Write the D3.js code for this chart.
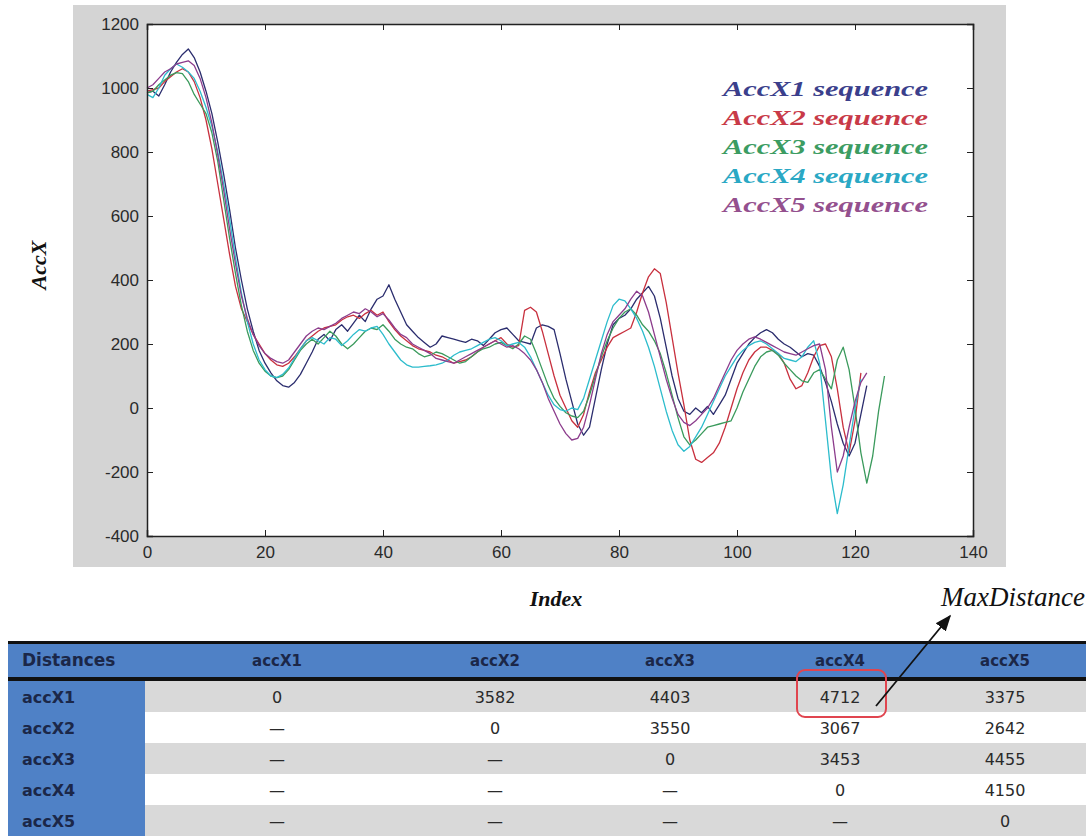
<!DOCTYPE html>
<html>
<head>
<meta charset="utf-8">
<script src="https://cdn.jsdelivr.net/npm/d3@7/dist/d3.min.js"></script>
<style>
  body { margin: 0; background: #fff; }
  svg { display: block; }
</style>
</head>
<body>
<svg id="chart" width="1091" height="837"></svg>
<script>
// 五条序列（按索引 0,1,2,... 读取）
const accX1 = [985,990,975,1010,1050,1080,1105,1122,1095,1050,990,920,830,730,620,500,400,310,240,180,
  140,110,85,70,65,80,105,140,175,215,230,210,245,260,240,265,290,270,310,340,
  350,385,340,300,260,240,220,205,190,200,225,220,215,210,205,215,210,195,215,235,
  245,250,230,210,205,200,250,260,255,245,170,90,20,-50,-85,-60,30,120,200,260,
  280,290,310,340,360,380,350,280,190,100,30,-10,-20,0,-15,5,-20,10,40,90,
  140,170,200,220,235,245,235,215,200,190,175,160,170,165,130,80,20,-50,-110,-150,
  -110,-20,70];
const accX2 = [990,995,1000,1020,1035,1050,1060,1050,1020,970,900,810,700,590,480,380,310,270,230,200,
  170,150,135,130,140,160,185,210,225,240,250,255,260,275,285,290,280,295,305,290,
  300,270,245,225,210,195,185,180,175,165,160,150,140,145,150,160,175,190,200,210,
  220,200,190,195,305,315,300,240,170,100,40,0,-40,-60,-20,50,110,150,190,220,
  230,240,250,300,360,410,435,420,330,220,110,10,-100,-160,-170,-155,-140,-110,-60,0,
  60,110,150,175,190,190,180,170,140,90,60,70,110,160,195,200,160,60,-60,-140,
  -40,110];
const accX3 = [985,990,1010,1025,1040,1048,1045,1020,980,950,920,860,770,650,530,420,320,240,180,140,
  115,100,95,100,120,150,180,200,215,200,220,240,225,200,185,200,220,240,250,245,
  260,240,215,200,190,185,170,160,165,175,170,160,150,140,145,160,175,185,190,200,
  205,195,185,200,225,215,170,120,70,30,5,-15,-25,-30,-10,40,100,160,210,250,
  280,300,310,290,260,240,210,170,110,40,-30,-90,-115,-100,-80,-60,-55,-50,-45,-40,
  0,50,90,130,160,175,180,165,140,120,100,85,80,110,120,90,60,150,190,120,
  0,-140,-235,-150,-10,100];
const accX4 = [980,970,1000,1040,1060,1075,1065,1050,1030,990,940,880,800,700,590,470,360,270,200,150,
  120,100,95,105,125,155,185,210,220,210,200,220,215,195,210,230,245,240,250,255,
  230,200,175,150,135,128,128,130,132,135,140,150,165,175,180,185,195,205,215,220,
  210,195,200,205,190,160,120,80,40,10,-5,-10,0,-5,30,90,150,210,270,320,
  340,335,310,280,240,190,130,60,-10,-70,-115,-135,-120,-90,-60,-20,20,60,100,130,
  160,180,195,205,210,200,185,170,155,150,145,160,190,210,140,-40,-220,-330,-240,-120,
  0,90];
const accX5 = [1000,1010,1030,1050,1060,1075,1080,1085,1070,1030,970,890,790,680,560,450,350,280,230,195,
  170,155,145,140,150,175,200,225,240,250,245,255,265,280,290,300,295,310,300,285,
  295,275,250,230,220,200,190,180,170,155,150,145,140,150,160,170,180,190,200,210,
  200,190,195,185,170,150,120,80,30,-10,-50,-80,-100,-95,-60,10,90,170,230,270,
  290,310,340,365,350,300,230,160,90,30,-20,-45,-55,-40,-20,0,30,70,110,150,
  180,200,215,222,215,205,195,185,175,170,165,175,185,195,200,120,-60,-200,-150,-60,
  20,80,110];

const seriesNames = ["AccX1 sequence", "AccX2 sequence", "AccX3 sequence", "AccX4 sequence", "AccX5 sequence"];
const lineColors = ["#2b2d6e", "#c8303e", "#3a9a5c", "#2cbccc", "#8c3c8c"];
const legendColors = ["#3b3f8c", "#c83a48", "#3c9c62", "#2aa8c4", "#94508e"];

const xTicks = [0, 20, 40, 60, 80, 100, 120, 140];
const yTicks = [-400, -200, 0, 200, 400, 600, 800, 1000, 1200];

// 距离矩阵
const tableColumns = ["Distances", "accX1", "accX2", "accX3", "accX4", "accX5"];
const rowLabels = ["accX1", "accX2", "accX3", "accX4", "accX5"];
const distances = [
  ["0", "3582", "4403", "4712", "3375"],
  ["—", "0", "3550", "3067", "2642"],
  ["—", "—", "0", "3453", "4455"],
  ["—", "—", "—", "0", "4150"],
  ["—", "—", "—", "—", "0"]
];

const svg = d3.select("#chart");

// 灰色背景 + 白色绘图区
const plot = { left: 147, right: 973, top: 24, bottom: 536 };
svg.append("rect")
  .attr("x", 73).attr("y", 5)
  .attr("width", 933).attr("height", 562)
  .attr("fill", "#d4d4d4");
svg.append("rect")
  .attr("x", plot.left).attr("y", plot.top)
  .attr("width", plot.right - plot.left).attr("height", plot.bottom - plot.top)
  .attr("fill", "#fff");

const x = d3.scaleLinear().domain([0, 140]).range([plot.left, plot.right]);
const y = d3.scaleLinear().domain([-400, 1200]).range([plot.bottom, plot.top]);

// 折线
const line = d3.line()
  .x((d, i) => x(i))
  .y(d => y(d));

const allSeries = [accX1, accX2, accX3, accX4, accX5];
svg.append("g")
  .selectAll("path")
  .data(allSeries)
  .enter()
  .append("path")
  .attr("d", line)
  .attr("fill", "none")
  .attr("stroke", (d, i) => lineColors[i])
  .attr("stroke-width", 1.3)
  .attr("stroke-linejoin", "round");

// 坐标轴（刻度朝内）
const tickFont = "Liberation Sans, Arial, sans-serif";
const fmt = d => String(d);
svg.append("g")
  .attr("transform", `translate(0,${plot.bottom})`)
  .call(d3.axisBottom(x).tickValues(xTicks).tickSize(-6).tickPadding(10).tickFormat(fmt));
svg.append("g")
  .attr("transform", `translate(${plot.left},0)`)
  .call(d3.axisLeft(y).tickValues(yTicks).tickSize(-6).tickPadding(8).tickFormat(fmt));
svg.append("g")
  .attr("transform", `translate(0,${plot.top})`)
  .call(d3.axisTop(x).tickValues(xTicks).tickSize(-6).tickFormat(""));
svg.append("g")
  .attr("transform", `translate(${plot.right},0)`)
  .call(d3.axisRight(y).tickValues(yTicks).tickSize(-6).tickFormat(""));

svg.selectAll(".domain").attr("stroke", "#222").attr("stroke-width", 1.5);
svg.selectAll(".tick line").attr("stroke", "#222");
svg.selectAll(".tick text")
  .attr("font-family", tickFont)
  .attr("font-size", 17)
  .attr("fill", "#2a2a2a");

// 轴标题
svg.append("text")
  .attr("transform", "translate(46,265) rotate(-90)")
  .attr("text-anchor", "middle")
  .attr("font-family", "Liberation Serif, Times New Roman, serif")
  .attr("font-style", "italic").attr("font-weight", "bold")
  .attr("font-size", 22)
  .attr("fill", "#111")
  .text("AccX");
svg.append("text")
  .attr("x", 556).attr("y", 606)
  .attr("text-anchor", "middle")
  .attr("font-family", "Liberation Serif, Times New Roman, serif")
  .attr("font-style", "italic").attr("font-weight", "bold")
  .attr("font-size", 22)
  .attr("fill", "#111")
  .text("Index");

// 图例
svg.append("g")
  .selectAll("text")
  .data(seriesNames)
  .enter()
  .append("text")
  .attr("x", 723)
  .attr("y", (d, i) => 96 + i * 29)
  .attr("font-family", "Liberation Serif, Times New Roman, serif")
  .attr("font-style", "italic").attr("font-weight", "bold")
  .attr("font-size", 22)
  .attr("textLength", 205)
  .attr("lengthAdjust", "spacingAndGlyphs")
  .attr("fill", (d, i) => legendColors[i])
  .text(d => d);

// 表格
const tbl = { left: 8, right: 1086, top: 643, headH: 34, rowH: 31 };
const colCenters = [null, 277, 495, 670, 840, 1005];
const firstColW = 137;
const bodyTop = tbl.top + tbl.headH + 4;
const blue = "#4f81c6";
const navy = "#1b2748";

svg.append("rect")
  .attr("x", tbl.left).attr("y", tbl.top)
  .attr("width", tbl.right - tbl.left).attr("height", tbl.headH)
  .attr("fill", blue);

const rows = svg.append("g")
  .selectAll("g")
  .data(rowLabels)
  .enter()
  .append("g")
  .attr("transform", (d, i) => `translate(0,${bodyTop + i * tbl.rowH})`);

// 斑马纹 + 左侧蓝色列
rows.append("rect")
  .attr("x", tbl.left + firstColW).attr("y", 0)
  .attr("width", tbl.right - tbl.left - firstColW).attr("height", tbl.rowH)
  .attr("fill", (d, i) => i % 2 === 0 ? "#d9d9d9" : "#fff");
rows.append("rect")
  .attr("x", tbl.left).attr("y", 0)
  .attr("width", firstColW).attr("height", tbl.rowH)
  .attr("fill", blue);

// 表头文字
svg.append("g")
  .selectAll("text")
  .data(tableColumns)
  .enter()
  .append("text")
  .attr("x", (d, i) => i === 0 ? 22 : colCenters[i])
  .attr("y", tbl.top + tbl.headH / 2 + 6)
  .attr("text-anchor", (d, i) => i === 0 ? "start" : "middle")
  .attr("font-family", "DejaVu Sans, Verdana, sans-serif")
  .attr("font-weight", "bold")
  .attr("font-size", (d, i) => i === 0 ? 17 : 15)
  .attr("fill", navy)
  .text(d => d);

// 行标签
rows.append("text")
  .attr("x", 22)
  .attr("y", tbl.rowH / 2 + 6)
  .attr("font-family", "DejaVu Sans, Verdana, sans-serif")
  .attr("font-weight", "bold")
  .attr("font-size", 16)
  .attr("fill", navy)
  .text(d => d);

// 数值
rows.each(function(label, r) {
  d3.select(this).selectAll("text.val")
    .data(distances[r])
    .enter()
    .append("text")
    .attr("class", "val")
    .attr("x", (d, c) => colCenters[c + 1])
    .attr("y", tbl.rowH / 2 + 6)
    .attr("text-anchor", "middle")
    .attr("font-family", "DejaVu Sans, Verdana, sans-serif")
    .attr("font-size", 16)
    .attr("fill", "#2a2a2a")
    .text(d => d);
});

// 黑色粗线
svg.append("rect")
  .attr("x", tbl.left).attr("y", tbl.top - 2)
  .attr("width", tbl.right - tbl.left).attr("height", 3)
  .attr("fill", "#111");
svg.append("rect")
  .attr("x", tbl.left).attr("y", tbl.top + tbl.headH)
  .attr("width", tbl.right - tbl.left).attr("height", 4)
  .attr("fill", "#111");

// 最大距离标注
svg.append("rect")
  .attr("x", 797).attr("y", 670)
  .attr("width", 89).attr("height", 47)
  .attr("rx", 8)
  .attr("fill", "none")
  .attr("stroke", "#e0454f")
  .attr("stroke-width", 2);

svg.append("defs").append("marker")
  .attr("id", "arrow")
  .attr("viewBox", "0 0 10 10")
  .attr("refX", 9).attr("refY", 5)
  .attr("markerWidth", 9).attr("markerHeight", 9)
  .attr("orient", "auto")
  .append("path")
  .attr("d", "M0,1 L10,5 L0,9 Z")
  .attr("fill", "#111");

svg.append("line")
  .attr("x1", 876).attr("y1", 706)
  .attr("x2", 950).attr("y2", 616)
  .attr("stroke", "#111")
  .attr("stroke-width", 1.8)
  .attr("marker-end", "url(#arrow)");

svg.append("text")
  .attr("x", 1085).attr("y", 606)
  .attr("text-anchor", "end")
  .attr("font-family", "Liberation Serif, Times New Roman, serif")
  .attr("font-style", "italic")
  .attr("font-size", 27)
  .attr("fill", "#111")
  .text("MaxDistance");
</script>
</body>
</html>
